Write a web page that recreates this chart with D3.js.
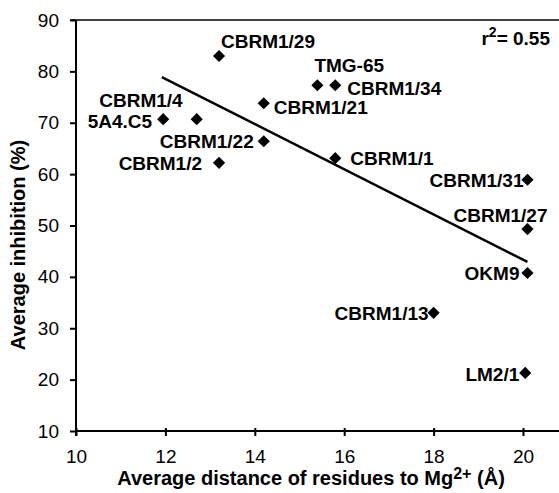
<!DOCTYPE html>
<html>
<head>
<meta charset="utf-8">
<script src="https://cdn.jsdelivr.net/npm/d3@7"></script>
<style>
  body { margin: 0; background: #fff; }
  svg { display: block; font-family: "Liberation Sans", Arial, sans-serif; }
</style>
</head>
<body>
<div id="chart"></div>
<script>
// Data
const names = ["CBRM1/29", "TMG-65", "CBRM1/34", "CBRM1/21", "CBRM1/4", "5A4.C5",
  "CBRM1/22", "CBRM1/2", "CBRM1/1", "CBRM1/31", "CBRM1/27", "OKM9", "CBRM1/13", "LM2/1"];
const distance = [13.2, 15.4, 15.8, 14.2, 12.7, 11.95, 14.2, 13.2, 15.8, 20.1, 20.1, 20.1, 18.0, 20.05];
const inhibition = [83, 77.3, 77.3, 73.8, 70.7, 70.7, 66.4, 62.2, 63.1, 58.9, 49.3, 40.75, 33.0, 21.3];
const fitX = [11.92, 20.1];
const fitY = [78.9, 42.9];
const xTicks = [10, 12, 14, 16, 18, 20];
const yTicks = [10, 20, 30, 40, 50, 60, 70, 80, 90];

// label placement (anchor, dx, dy) per point
const labelPos = {
  "CBRM1/29": ["start", 2, -8],
  "TMG-65": ["start", -3, -13],
  "CBRM1/34": ["start", 12, 9.5],
  "CBRM1/21": ["start", 10, 11],
  "CBRM1/4": ["end", -14, -12],
  "5A4.C5": ["end", -11, 8.5],
  "CBRM1/22": ["end", -10, 7],
  "CBRM1/2": ["end", -17, 7],
  "CBRM1/1": ["start", 15, 7],
  "CBRM1/31": ["end", -4, 7],
  "CBRM1/27": ["end", 20, -7],
  "OKM9": ["end", -8, 7],
  "CBRM1/13": ["end", -5, 7],
  "LM2/1": ["end", -6, 8]
};

const w = 559, h = 493;
const x = d3.scaleLinear().domain([10, 21]).range([76, 567.7]);
const y = d3.scaleLinear().domain([10, 90]).range([431, 20]);

const svg = d3.select("#chart").append("svg")
  .attr("width", w).attr("height", h);

// top frame line
svg.append("line")
  .attr("x1", 70).attr("x2", w)
  .attr("y1", y(90)).attr("y2", y(90))
  .attr("stroke", "#000").attr("stroke-width", 1.5);

// axes
const yAxis = svg.append("g")
  .attr("transform", `translate(${x(10)},0)`)
  .call(d3.axisLeft(y).tickValues(yTicks).tickSize(6).tickPadding(11));
const xAxis = svg.append("g")
  .attr("transform", `translate(0,${y(10)})`)
  .call(d3.axisBottom(x).tickValues(xTicks).tickSize(5).tickPadding(27));

[xAxis, yAxis].forEach(g => {
  g.select(".domain").remove();
  g.selectAll("line").attr("stroke", "#000").attr("stroke-width", 2);
  g.selectAll("text").attr("font-size", 19).attr("fill", "#000")
    .attr("font-family", "'Liberation Sans', Arial, sans-serif");
});
xAxis.selectAll(".tick line").attr("y1", -3);
xAxis.selectAll(".tick text").attr("dy", "0");

svg.append("line")
  .attr("x1", x(10)).attr("x2", w)
  .attr("y1", y(10)).attr("y2", y(10))
  .attr("stroke", "#000").attr("stroke-width", 2);
svg.append("line")
  .attr("x1", x(10)).attr("x2", x(10))
  .attr("y1", y(90)).attr("y2", y(10) + 5)
  .attr("stroke", "#000").attr("stroke-width", 2);

// regression line
svg.append("line")
  .attr("x1", x(fitX[0])).attr("y1", y(fitY[0]))
  .attr("x2", x(fitX[1])).attr("y2", y(fitY[1]))
  .attr("stroke", "#000").attr("stroke-width", 2.5);

// points
const pts = names.map((n, i) => ({ name: n, d: distance[i], v: inhibition[i] }));
svg.selectAll("path.pt")
  .data(pts)
  .enter()
  .append("path")
  .attr("class", "pt")
  .attr("d", d3.symbol(d3.symbolSquare, 74))
  .attr("transform", d => `translate(${x(d.d)},${y(d.v)}) rotate(45)`)
  .attr("fill", "#000");

svg.selectAll("text.lbl")
  .data(pts)
  .enter()
  .append("text")
  .attr("class", "lbl")
  .attr("x", d => x(d.d) + labelPos[d.name][1])
  .attr("y", d => y(d.v) + labelPos[d.name][2])
  .attr("text-anchor", d => labelPos[d.name][0])
  .attr("font-size", 19)
  .attr("font-weight", "bold")
  .text(d => d.name);

// r^2
const r2 = svg.append("text")
  .attr("x", 550).attr("y", 45)
  .attr("text-anchor", "end")
  .attr("font-size", 19).attr("font-weight", "bold");
r2.append("tspan").text("r");
r2.append("tspan").attr("font-size", 14).attr("dy", -8).text("2");
r2.append("tspan").attr("dy", 8).text("= 0.55");

// axis titles
const xt = svg.append("text")
  .attr("x", 311).attr("y", 485)
  .attr("text-anchor", "middle")
  .attr("font-size", 20).attr("font-weight", "bold");
xt.append("tspan").text("Average distance of residues to Mg");
xt.append("tspan").attr("font-size", 16).attr("dy", -6).text("2+");
xt.append("tspan").attr("dy", 6).text(" (Å)");

svg.append("text")
  .attr("transform", "translate(25,245) rotate(-90)")
  .attr("text-anchor", "middle")
  .attr("font-size", 20).attr("font-weight", "bold")
  .text("Average inhibition (%)");
</script>
</body>
</html>
